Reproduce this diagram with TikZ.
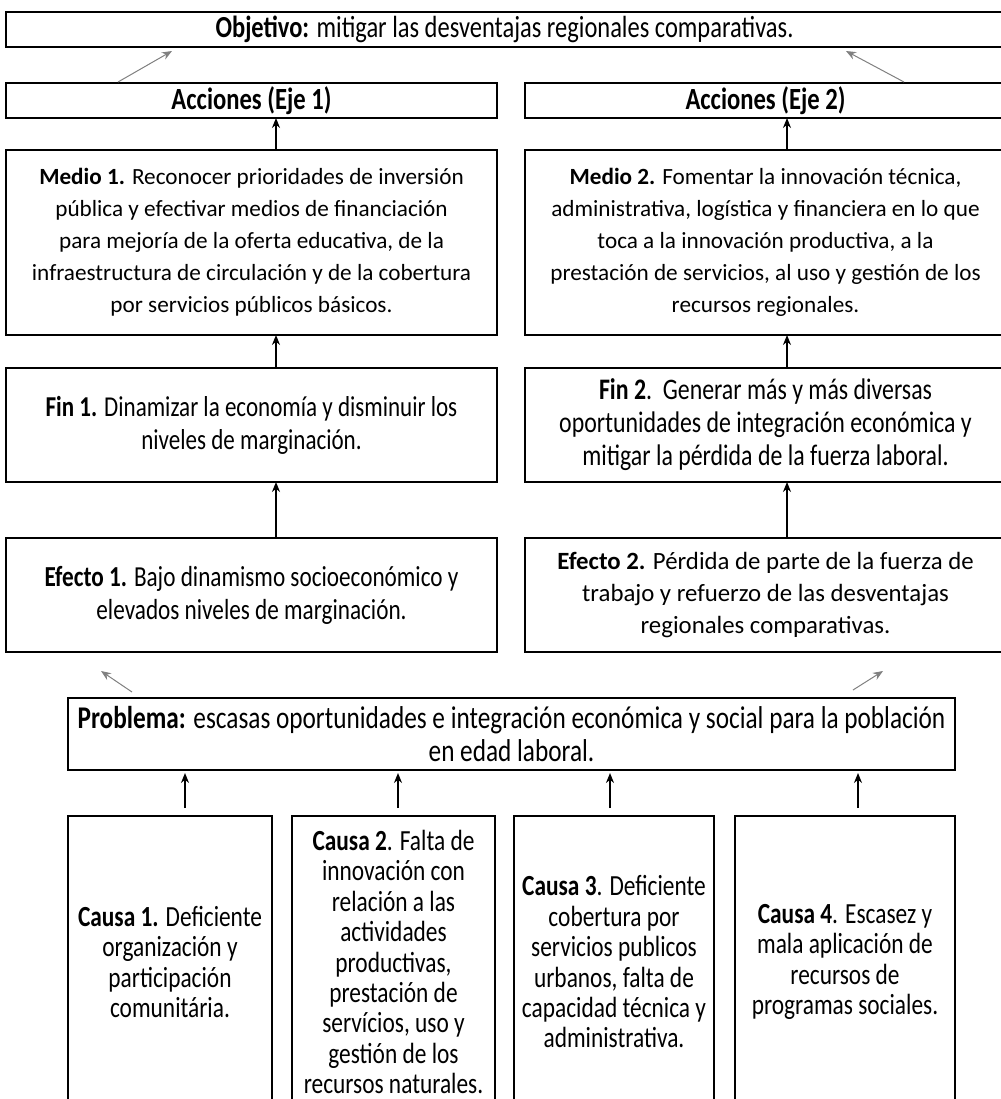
\documentclass[tikz,border=0pt]{standalone}
\usepackage{fontspec}
\setmainfont{Carlito}
\newfontfamily\narrowfont[FakeStretch=0.8]{Carlito}
\usetikzlibrary{positioning, calc, arrows.meta}

\begin{document}
\begin{tikzpicture}[x=0.5pt, y=-0.5pt, >={Stealth[length=5pt, width=4pt]},
    box/.style={draw, line width=1.4pt, align=center, inner sep=0pt, outer sep=0pt},
    px/.style 2 args={minimum width=#1*0.5pt, minimum height=#2*0.5pt},
    narrowtxt/.style={font=\narrowfont\fontsize{#1}{16.5}\selectfont},
    widetxt/.style={font=\fontsize{#1}{16}\selectfont},
    causetxt/.style={font=\narrowfont\fontsize{14.6}{15.2}\selectfont},
    up/.style={->, line width=0.7pt},
    tilt/.style={->, line width=0.5pt, gray}]
    \useasboundingbox (0,0) rectangle (1001,1099);
    \clip (0,0) rectangle (1001,1099);

    % Objective and actions
    \node[box, px={997}{35}, narrowtxt=15.3] (obj) at (504.5,29.5) {\textbf{Objetivo:} mitigar las desventajas regionales comparativas.};
    \node[box, px={491}{35}, narrowtxt=15.4] (acc1) at (251.5,100.5) {\textbf{Acciones (Eje 1)}};
    \node[box, px={481}{35}, narrowtxt=15.4] (acc2) at (765.5,100.5) {\textbf{Acciones (Eje 2)}};

    % Means
    \node[box, px={491}{185}, widetxt=11.6] (med1) at (251.5,242.5) {\textbf{Medio 1.} Reconocer prioridades de inversión\\ pública y efectivar medios de financiación\\ para mejoría de la oferta educativa, de la\\ infraestructura de circulación y de la cobertura\\ por servicios públicos básicos.};
    \node[box, px={481}{185}, widetxt=11.6] (med2) at (765.5,242.5) {\textbf{Medio 2.} Fomentar la innovación técnica,\\ administrativa, logística y financiera en lo que\\ toca a la innovación productiva, a la\\ prestación de servicios, al uso y gestión de los\\ recursos regionales.};

    % Ends
    \node[box, px={491}{114}, narrowtxt=14.4] (fin1) at (251.5,425) {\textbf{Fin 1.} Dinamizar la economía y disminuir los\\ niveles de marginación.};
    \node[box, px={481}{114}, narrowtxt=14.9] (fin2) at (765.5,425) {\textbf{Fin 2}.\ \ Generar más y más diversas\\ oportunidades de integración económica y\\ mitigar la pérdida de la fuerza laboral.};

    % Effects
    \node[box, px={491}{114}, narrowtxt=14.5] (efe1) at (251.5,595) {\textbf{Efecto 1.} Bajo dinamismo socioeconómico y\\ elevados niveles de marginación.};
    \node[box, px={481}{114}, widetxt=12.4] (efe2) at (765.5,595) {\textbf{Efecto 2.} Pérdida de parte de la fuerza de\\ trabajo y refuerzo de las desventajas\\ regionales comparativas.};

    % Problem
    \node[box, px={887}{72}, narrowtxt=15.8] (prob) at (511.5,734) {\textbf{Problema:} escasas oportunidades e integración económica y social para la población\\ en edad laboral.};

    % Causes
    \node[box, px={204}{292}, causetxt] (c1) at (170,962) {\textbf{Causa 1.} Deficiente\\ organización y\\ participación\\ comunitária.};
    \node[box, px={203}{292}, causetxt] (c2) at (393.5,962) {\textbf{Causa 2}. Falta de\\ innovación con\\ relación a las\\ actividades\\ productivas,\\ prestación de\\ servícios, uso y\\ gestión de los\\ recursos naturales.};
    \node[box, px={200}{292}, causetxt] (c3) at (614,962) {\textbf{Causa 3}. Deficiente\\ cobertura por\\ servicios publicos\\ urbanos, falta de\\ capacidad técnica y\\ administrativa.};
    \node[box, px={220}{292}, causetxt] (c4) at (845,962) {\textbf{Causa 4}. Escasez y\\ mala aplicación de\\ recursos de\\ programas sociales.};

    % Coordinates
    \coordinate (ax1) at (276,0);
    \coordinate (ax2) at (787,0);
    \coordinate (k1) at (185,808);
    \coordinate (k2) at (398,808);
    \coordinate (k3) at (610,808);
    \coordinate (k4) at (858,808);
    \coordinate (g1) at (118,82);  \coordinate (h1) at (172,51);
    \coordinate (g2) at (904,82);  \coordinate (h2) at (846,51);
    \coordinate (g3) at (132,692); \coordinate (h3) at (101,671);
    \coordinate (g4) at (853,690); \coordinate (h4) at (883,671);

    % Arrows up the tree
    \foreach \a/\b in {med1/acc1, fin1/med1, efe1/fin1}
        \draw[up] (\a.north -| ax1) -- (\b.south -| ax1);
    \foreach \a/\b in {med2/acc2, fin2/med2, efe2/fin2}
        \draw[up] (\a.north -| ax2) -- (\b.south -| ax2);
    \foreach \k in {k1, k2, k3, k4}
        \draw[up] (\k) -- ([yshift=-1.5pt]\k |- prob.south);

    % Thin diagonal arrows
    \foreach \g/\h in {g1/h1, g2/h2, g3/h3, g4/h4}
        \draw[tilt] (\g) -- (\h);
\end{tikzpicture}
\end{document}
